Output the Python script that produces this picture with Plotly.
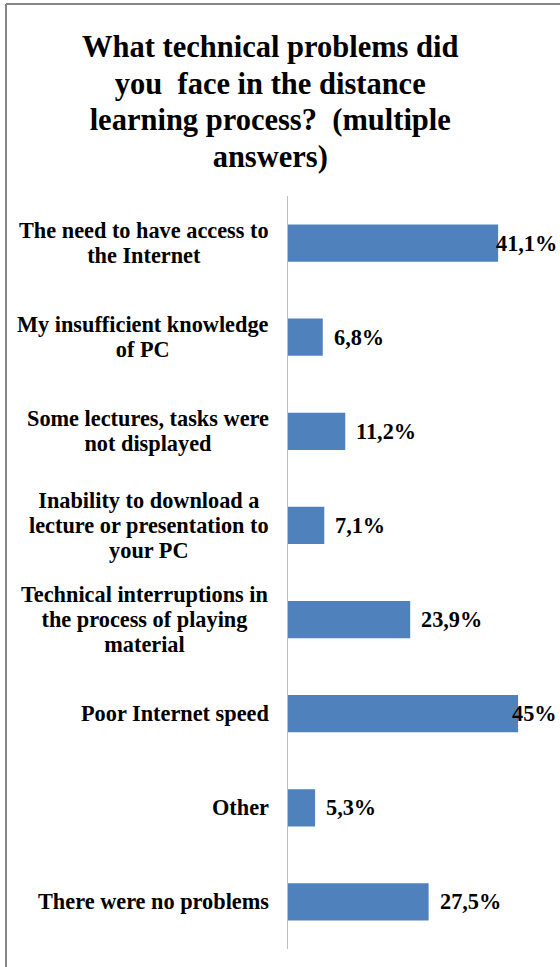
import plotly.graph_objects as go

categories = [
    "The need to have access to<br>the Internet",
    "My insufficient knowledge<br>of PC",
    "Some lectures, tasks were<br>not displayed",
    "Inability to download a<br>lecture or presentation to<br>your PC",
    "Technical interruptions in<br>the process of playing<br>material",
    "Poor Internet speed",
    "Other",
    "There were no problems",
]
values = [41.1, 6.8, 11.2, 7.1, 23.9, 45.0, 5.3, 27.5]
value_labels = ["41,1%", "6,8%", "11,2%", "7,1%", "23,9%", "45%", "5,3%", "27,5%"]
title_text = "What technical problems did<br>you  face in the distance<br>learning process?  (multiple<br>answers)"

W, H = 560, 967
L, R, T, B = 288, 0, 196, 18
XMAX = 53.2
FONT = "Liberation Serif"


def styled(text, glyph_px):
    parts = text.split("<br>")
    return "<br>".join(
        "<b><span style='font-size:%.1fpx'>%s</span></b>" % (glyph_px, p) for p in parts
    )


fig = go.Figure()
fig.add_trace(go.Bar(
    x=values, y=categories, orientation="h",
    marker=dict(color="#4F81BD", line=dict(width=0)),
    hoverinfo="skip",
))

pw = W - L - R
ph = H - T - B
def px_x(p):
    return (p - L) / pw
def px_y(p):
    return (H - B - p) / ph

annotations = []
for cat, v, lab in zip(categories, values, value_labels):
    annotations.append(dict(
        x=0, y=cat, xref="x", yref="y", text=styled(cat, 22.3),
        showarrow=False, xanchor="right", yanchor="middle", align="center",
        xshift=-17, font=dict(family=FONT, size=19.2, color="black"),
    ))
    if v > 38:
        annotations.append(dict(
            x=XMAX, y=cat, xref="x", yref="y", text=styled(lab, 22.3),
            showarrow=False, xanchor="right", yanchor="middle", xshift=-1,
            font=dict(family=FONT, size=19.2, color="black"),
        ))
    else:
        annotations.append(dict(
            x=v, y=cat, xref="x", yref="y", text=styled(lab, 22.3),
            showarrow=False, xanchor="left", yanchor="middle", xshift=9,
            font=dict(family=FONT, size=19.2, color="black"),
        ))

annotations.append(dict(
    x=px_x(270), y=px_y(102), xref="paper", yref="paper",
    text=styled(title_text, 30.5), showarrow=False,
    xanchor="center", yanchor="middle", align="center",
    font=dict(family=FONT, size=28.2, color="black"),
))

shapes = [
    dict(type="line", xref="paper", yref="paper",
         x0=px_x(6), x1=px_x(6), y0=px_y(4), y1=px_y(967),
         line=dict(color="#868686", width=2)),
    dict(type="line", xref="paper", yref="paper",
         x0=px_x(6), x1=px_x(560), y0=px_y(4), y1=px_y(4),
         line=dict(color="#868686", width=2)),
]

fig.update_layout(
    width=W, height=H,
    margin=dict(l=L, r=R, t=T, b=B),
    paper_bgcolor="white", plot_bgcolor="white",
    showlegend=False,
    bargap=0.605,
    xaxis=dict(range=[0, XMAX], showgrid=False, zeroline=False,
               showticklabels=False, showline=False, fixedrange=True),
    yaxis=dict(autorange="reversed", showticklabels=False, ticks="",
               showline=True, linecolor="#BFBFBF", linewidth=1,
               showgrid=False, zeroline=False),
    annotations=annotations,
    shapes=shapes,
)

fig.write_html("out.html")
